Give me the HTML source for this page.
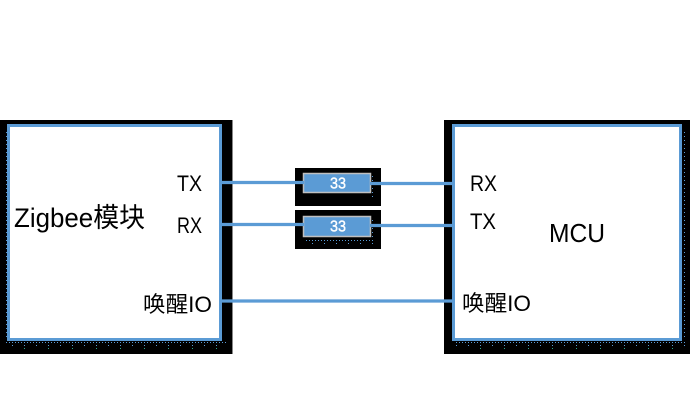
<!DOCTYPE html>
<html>
<head>
<meta charset="utf-8">
<style>
html,body{margin:0;padding:0;background:#fff;}
svg{display:block;}
text{font-family:"Liberation Sans","Noto Sans CJK SC",sans-serif;fill:#000;}
</style>
</head>
<body>
<svg width="690" height="408" viewBox="0 0 690 408" xmlns="http://www.w3.org/2000/svg">
<defs>
  <pattern id="d1" x="0" y="0" width="3" height="3" patternUnits="userSpaceOnUse">
    <rect x="0" y="0" width="1" height="1" fill="#5b9bd5"/>
  </pattern>
  <pattern id="d2" x="0" y="0" width="12" height="3" patternUnits="userSpaceOnUse">
    <rect x="0" y="0" width="1" height="1" fill="#5b9bd5"/>
  </pattern>
  <pattern id="d3" x="0" y="0" width="24" height="3" patternUnits="userSpaceOnUse">
    <rect x="0" y="0" width="1" height="1" fill="#2fa58a"/>
  </pattern>
  <pattern id="dv" x="0" y="0" width="3" height="4" patternUnits="userSpaceOnUse">
    <rect x="0" y="0" width="1" height="1" fill="#5b9bd5"/>
  </pattern>
</defs>

<!-- Left module -->
<rect x="0" y="120" width="232" height="234" fill="#000"/>
<rect x="232" y="120" width="1" height="234" fill="#888"/>
<rect x="8.5" y="125.5" width="212" height="214" fill="#fff" stroke="#5b9bd5" stroke-width="3"/>
<rect x="6" y="342" width="220" height="1" fill="url(#d1)"/>
<rect x="6" y="345" width="220" height="1" fill="url(#d2)"/>
<rect x="12" y="348" width="210" height="1" fill="url(#d3)"/>
<rect x="6" y="130" width="1" height="208" fill="url(#dv)"/>
<rect x="224" y="130" width="1" height="208" fill="url(#dv)"/>

<!-- Right MCU -->
<rect x="444" y="120" width="246" height="234" fill="#000"/>
<rect x="453.5" y="125.5" width="227" height="214" fill="#fff" stroke="#5b9bd5" stroke-width="3"/>
<rect x="456" y="342" width="230" height="1" fill="url(#d1)"/>
<rect x="456" y="345" width="230" height="1" fill="url(#d2)"/>
<rect x="460" y="348" width="225" height="1" fill="url(#d3)"/>
<rect x="684" y="130" width="1" height="208" fill="url(#dv)"/>

<!-- Resistors -->
<rect x="295" y="168" width="86" height="38" fill="#000"/>
<rect x="303.5" y="173.5" width="67" height="19" fill="#5b9bd5" stroke="#bfbfbf" stroke-width="1.5"/>
<rect x="305" y="196" width="70" height="1" fill="url(#d1)"/>
<rect x="305" y="199" width="70" height="1" fill="url(#d2)"/>
<rect x="372" y="176" width="1" height="22" fill="url(#dv)"/>
<text x="338" y="188.5" font-size="16" text-anchor="middle" textLength="16" lengthAdjust="spacingAndGlyphs" style="fill:#fff" stroke="#fff" stroke-width="0.4">33</text>

<rect x="295" y="210" width="86" height="39" fill="#000"/>
<rect x="303.5" y="216.5" width="67" height="20" fill="#5b9bd5" stroke="#bfbfbf" stroke-width="1.5"/>
<rect x="305" y="240" width="70" height="1" fill="url(#d1)"/>
<rect x="305" y="243" width="70" height="1" fill="url(#d2)"/>
<rect x="372" y="219" width="1" height="22" fill="url(#dv)"/>
<text x="338" y="231.5" font-size="16" text-anchor="middle" textLength="16" lengthAdjust="spacingAndGlyphs" style="fill:#fff" stroke="#fff" stroke-width="0.4">33</text>

<!-- Connecting lines -->
<line x1="220" y1="182.5" x2="304" y2="182.5" stroke="#5b9bd5" stroke-width="3.2"/>
<line x1="370" y1="183.5" x2="455" y2="183.5" stroke="#5b9bd5" stroke-width="3.2"/>
<line x1="220" y1="224.5" x2="304" y2="224.5" stroke="#5b9bd5" stroke-width="3.2"/>
<line x1="370" y1="225.5" x2="455" y2="225.5" stroke="#5b9bd5" stroke-width="3.2"/>
<line x1="220" y1="301" x2="455" y2="301" stroke="#5b9bd5" stroke-width="3.2"/>

<!-- Left labels -->
<text x="14" y="227" font-size="27" textLength="131" lengthAdjust="spacingAndGlyphs">Zigbee模块</text>
<text x="177" y="191" font-size="22" textLength="25" lengthAdjust="spacingAndGlyphs">TX</text>
<text x="177" y="233" font-size="22" textLength="25" lengthAdjust="spacingAndGlyphs">RX</text>
<text x="143" y="312" font-size="22" textLength="69" lengthAdjust="spacingAndGlyphs">唤醒IO</text>

<!-- Right labels -->
<text x="470" y="191" font-size="22" textLength="27" lengthAdjust="spacingAndGlyphs">RX</text>
<text x="470" y="229" font-size="22" textLength="26" lengthAdjust="spacingAndGlyphs">TX</text>
<text x="549" y="242" font-size="26" textLength="56" lengthAdjust="spacingAndGlyphs">MCU</text>
<text x="462" y="311" font-size="22" textLength="69" lengthAdjust="spacingAndGlyphs">唤醒IO</text>
</svg>
</body>
</html>
